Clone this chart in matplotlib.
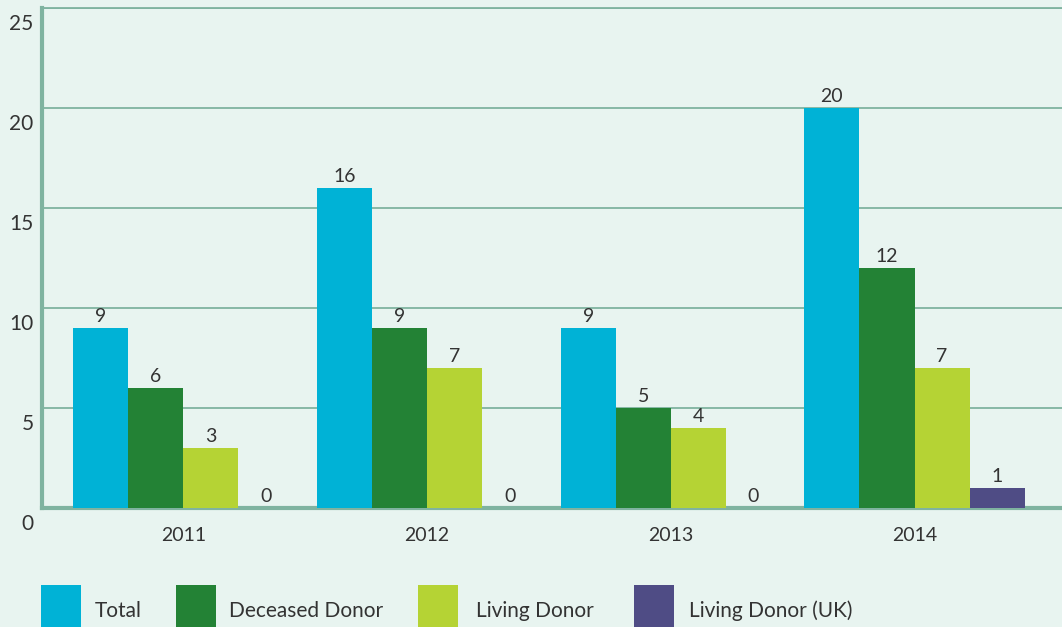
import numpy as np
import matplotlib.pyplot as plt
from matplotlib.patches import Rectangle
import matplotlib.transforms as mtransforms

plt.rcParams['font.family'] = ['Lato', 'DejaVu Sans']

years = ['2011', '2012', '2013', '2014']
series = ['Total', 'Deceased Donor', 'Living Donor', 'Living Donor (UK)']
total = [9, 16, 9, 20]
deceased = [6, 9, 5, 12]
living = [3, 7, 4, 7]
living_uk = [0, 0, 0, 1]
colors = ['#00b2d6', '#238235', '#b5d334', '#4f4c85']

bg = '#e8f4f0'
line_col = '#7fb3a0'
text_col = '#333333'

W, H = 1062, 627
fig = plt.figure(figsize=(W / 100, H / 100), dpi=100, facecolor=bg)
ax = fig.add_axes([42 / W, (H - 508) / H, (W - 42) / W, 500 / H])
ax.set_facecolor(bg)

x = np.arange(len(years))
bw = 0.226
values = [total, deceased, living, living_uk]
for i, (vals, c) in enumerate(zip(values, colors)):
    pos = x + (i - 1.5) * bw
    ax.bar(pos, vals, width=bw, color=c, zorder=3)
    for xp, v in zip(pos, vals):
        ax.annotate(str(v), (xp, v), xytext=(0, 2), textcoords='offset points',
                    ha='center', va='bottom', fontsize=14, color=text_col)

ax.set_xlim(-0.58, 3.605)
ax.set_ylim(0, 25)
ax.set_yticks([0, 5, 10, 15, 20, 25])
ax.yaxis.grid(True, color=line_col, lw=1.3, zorder=1)
ax.set_axisbelow(True)
ax.tick_params(axis='y', length=0, pad=6, labelsize=15, labelcolor=text_col)
ax.tick_params(axis='x', length=0, pad=14, labelsize=14, labelcolor=text_col)
ax.set_xticks(x)
ax.set_xticklabels(years)
off = mtransforms.ScaledTranslation(0, -10 / 72, fig.dpi_scale_trans)
for lbl in ax.get_yticklabels():
    lbl.set_transform(lbl.get_transform() + off)

ax.spines['right'].set_visible(False)
ax.spines['top'].set_color(line_col)
ax.spines['top'].set_linewidth(1.3)
ax.spines['left'].set_color(line_col)
ax.spines['left'].set_linewidth(3)
ax.spines['bottom'].set_color(line_col)
ax.spines['bottom'].set_linewidth(3)

# legend along the bottom
patch_x = [41, 176, 418, 634]
text_x = [95, 229, 476, 689]
for px, tx, name, c in zip(patch_x, text_x, series, colors):
    fig.add_artist(Rectangle((px / W, 0), 40 / W, 42 / H, transform=fig.transFigure,
                             color=c, lw=0))
    fig.text(tx / W, (H - 611) / H, name, ha='left', va='center',
             fontsize=15, color=text_col)

fig.savefig('out.png', dpi=100, facecolor=bg)
